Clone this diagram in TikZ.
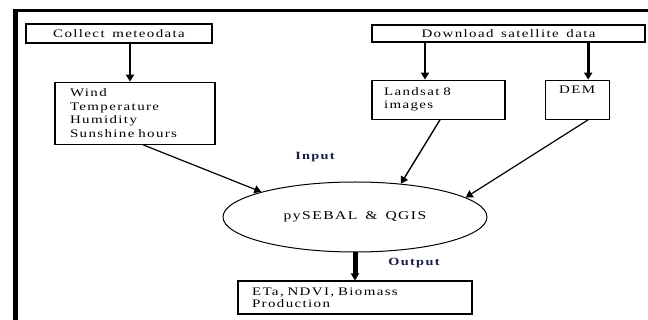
\documentclass[tikz,border=0pt]{standalone}
\usepackage{fontspec}
\setmainfont[FakeStretch=1.3, LetterSpace=12, WordSpace=1.5]{Liberation Serif}
\usetikzlibrary{positioning, arrows.meta, shapes.geometric}
\definecolor{labelnavy}{RGB}{25,30,70}

\begin{document}
\begin{tikzpicture}[x=1pt, y=-1pt,
    node distance=38pt and 39pt,
    box/.style={draw, rectangle, line width=1.2pt,
                font=\fontsize{11.5}{13.5}\selectfont, inner sep=0pt},
    listbox/.style={box, align=left, inner xsep=#1},
    tag/.style={font=\fontsize{11}{13}\selectfont\bfseries, text=labelnavy},
    arrow/.style={-{Triangle[length=7pt,width=8pt]}, line width=1.6pt}]
  \useasboundingbox (0,0) rectangle (648,320);
  % frame
  \draw[line width=3pt] (13,11) -- (648,11);
  \draw[line width=5pt] (15,9.5) -- (15,320);

  \node[box, minimum width=186pt, minimum height=19pt] (collect) at (119,33.5) {Collect meteodata};
  \node[box, minimum width=273pt, minimum height=17pt] (download) at (508.5,33.5) {Download satellite data};

  \node[listbox=15pt, text width=130pt, minimum width=160pt, minimum height=62pt,
        below=38pt of collect.south west, anchor=north west, xshift=29pt] (weather)
        {Wind\\Temperature\\Humidity\\Sunshine hours};
  \node[listbox=12pt, text width=109pt, minimum width=133pt, minimum height=39pt,
        below=37pt of download.south west, anchor=north west,
        font=\fontsize{11.5}{13}\selectfont] (landsat) {Landsat 8\\images};
  \node[box, minimum width=64pt, inner ysep=5pt, text height=8pt, text depth=21pt,
        right=39pt of landsat] (dem) {DEM};

  \node[draw, ellipse, line width=1pt, inner sep=0pt, minimum width=264pt, minimum height=70pt,
        font=\fontsize{12}{13}\selectfont] (pysebal) at (355,217) {\raisebox{-4pt}{pySEBAL \& QGIS}};
  \node[listbox=14pt, text width=206pt, minimum width=234pt, minimum height=33pt,
        below=28pt of pysebal, font=\fontsize{11.5}{12}\selectfont] (output)
        {ETa, NDVI, Biomass\\Production};

  \node[tag] (inlabel) at (315,157) {Input};
  \node[tag] (outlabel) at (414,263) {Output};

  \draw[arrow] ([xshift=-5pt]weather.north |- collect.south) -- ([xshift=-5pt]weather.north);
  \draw[arrow] ([xshift=-13.5pt]landsat.north |- download.south) -- ([xshift=-13.5pt]landsat.north);
  \draw[arrow, line width=3pt] ([xshift=11pt]dem.north |- download.south) -- ([xshift=11pt]dem.north);
  \draw[arrow, line width=1.2pt] ([xshift=8pt]weather.south) -- (pysebal.165);
  \draw[arrow, line width=1.4pt] ([xshift=1.5pt]landsat.south) -- (pysebal.36);
  \draw[arrow, line width=1.2pt] ([xshift=11pt]dem.south) -- (pysebal.10);
  \draw[arrow, line width=5pt] (pysebal.south) -- (output.north);
\end{tikzpicture}
\end{document}
